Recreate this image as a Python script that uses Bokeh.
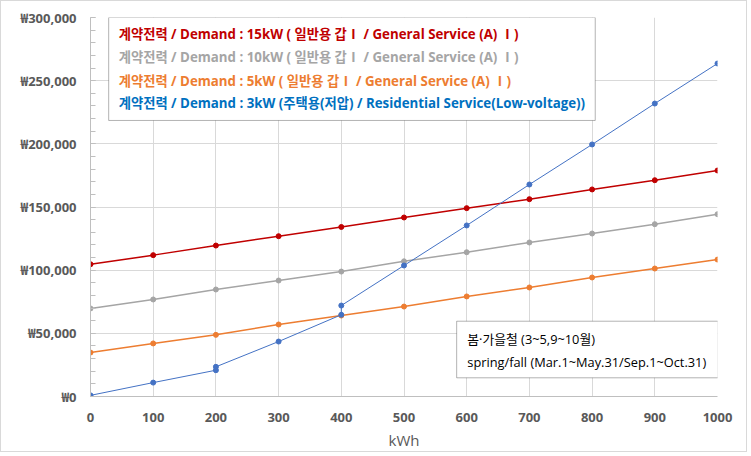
from bokeh.plotting import figure
from bokeh.models import (FixedTicker, CustomJSTickFormatter, Range1d, Label,
                          BoxAnnotation)
from bokeh.embed import file_html
from bokeh.resources import INLINE

# ---- data ----
kwh = [0, 100, 200, 300, 400, 500, 600, 700, 800, 900, 1000]
gen15 = [104700, 111900, 119500, 126900, 134200, 141700, 149100, 156200, 163900, 171200, 178900]
gen10 = [69700, 76800, 84700, 91800, 98900, 107000, 114200, 121900, 129000, 136400, 144300]
gen5 = [34800, 42000, 48800, 57000, 64100, 71200, 79200, 86300, 94200, 101300, 108400]
res_kwh = [0, 100, 200, 200, 300, 400, 400, 500, 600, 700, 800, 900, 1000]
res3 = [900, 11000, 20800, 23500, 43500, 64700, 72000, 103700, 135400, 167800, 199500, 231900, 263600]

legend_texts = [
    "계약전력 / Demand : 15kW ( 일반용 갑Ⅰ / General Service (A) Ⅰ)",
    "계약전력 / Demand : 10kW ( 일반용 갑Ⅰ / General Service (A) Ⅰ)",
    "계약전력 / Demand : 5kW ( 일반용 갑Ⅰ / General Service (A) Ⅰ)",
    "계약전력 / Demand : 3kW (주택용(저압) / Residential Service(Low-voltage))",
]
note_texts = ["봄·가을철 (3~5,9~10월)", "spring/fall (Mar.1~May.31/Sep.1~Oct.31)"]
x_ticks = list(range(0, 1001, 100))
y_ticks = list(range(0, 300001, 50000))
y_minor = list(range(0, 300001, 10000))

FONT = "Open Sans, Noto Sans CJK KR"
RED, GRAY, ORANGE, BLUE, BLUE_TXT = "#C00000", "#A5A5A5", "#ED7D31", "#4472C4", "#0070C0"

p = figure(width=747, height=452, output_backend="svg", toolbar_location=None,
           x_range=Range1d(0, 1000), y_range=Range1d(0, 300000),
           min_border_left=89, min_border_right=31, min_border_top=16, min_border_bottom=57,
           styles={"border": "1px solid #d9d9d9"})
p.outline_line_color = None
p.background_fill_color = "white"
p.border_fill_color = "white"

# grid
p.xgrid.ticker = FixedTicker(ticks=x_ticks)
p.ygrid.ticker = FixedTicker(ticks=y_ticks)
p.grid.grid_line_color = "#d9d9d9"
p.grid.grid_line_width = 1

# axes
p.xaxis.ticker = FixedTicker(ticks=x_ticks)
p.yaxis.ticker = FixedTicker(ticks=y_ticks, minor_ticks=y_minor)
p.yaxis.formatter = CustomJSTickFormatter(code="return '\u20a9' + tick.toLocaleString('en-US');")
for ax in (p.xaxis[0], p.yaxis[0]):
    ax.axis_line_color = "#bfbfbf"
    ax.major_label_text_font = FONT
    ax.major_label_text_font_size = "13px"
    ax.major_label_text_font_style = "bold"
    ax.major_label_text_color = "#595959"
p.xaxis.major_tick_line_color = None
p.xaxis.minor_tick_line_color = None
p.xaxis.major_label_standoff = 10
p.yaxis.major_tick_in = 5
p.yaxis.major_tick_out = 0
p.yaxis.minor_tick_in = 5
p.yaxis.minor_tick_out = 0
p.yaxis.major_tick_line_color = "#bfbfbf"
p.yaxis.minor_tick_line_color = "#bfbfbf"
p.yaxis.major_label_standoff = 14
p.xaxis.axis_label = "kWh"
p.xaxis.axis_label_text_font = FONT
p.xaxis.axis_label_text_font_size = "15px"
p.xaxis.axis_label_text_font_style = "normal"
p.xaxis.axis_label_text_color = "#595959"
p.xaxis.axis_label_standoff = 5

# series
for ys, c in ((gen15, RED), (gen10, GRAY), (gen5, ORANGE)):
    p.line(kwh, ys, line_color=c, line_width=1.5)
    p.scatter(kwh, ys, size=5, fill_color=c, line_color=c)
p.line(res_kwh, res3, line_color=BLUE, line_width=1)
p.scatter(res_kwh, res3, size=5, fill_color=BLUE, line_color=BLUE)

# legend box
p.add_layout(BoxAnnotation(left=29, right=805, top=300000, bottom=218500,
                           fill_color="white", fill_alpha=1, line_color="black",
                           line_width=1, level="overlay"))
legend_y = [286600, 268600, 250100, 232200]
for t, yv, c in zip(legend_texts, legend_y, (RED, GRAY, ORANGE, BLUE_TXT)):
    p.add_layout(Label(x=45, y=yv, text=t, text_color=c, text_font=FONT,
                       text_font_size="13.3px", text_font_style="bold",
                       text_baseline="middle", level="overlay"))

# note box
p.add_layout(BoxAnnotation(left=584, right=1001, top=59600, bottom=14800,
                           fill_color="white", fill_alpha=1, line_color="black",
                           line_width=1, level="overlay"))
for t, yv in zip(note_texts, [45700, 27200]):
    p.add_layout(Label(x=601, y=yv, text=t, text_color="black", text_font=FONT,
                       text_font_size="12.8px", text_baseline="middle", level="overlay"))

open("out.html", "w").write(file_html(p, INLINE))
